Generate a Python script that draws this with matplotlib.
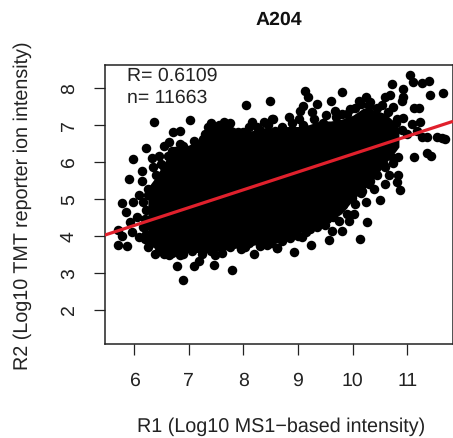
import matplotlib
matplotlib.use("Agg")
import matplotlib.pyplot as plt

plt.rcParams['font.family'] = ['Liberation Sans', 'DejaVu Sans']
plt.rcParams['text.hinting'] = 'no_hinting'

title = "A204"
xlabel = "R1 (Log10 MS1\u2212based intensity)"
ylabel = "R2 (Log10 TMT reporter ion intensity)"
r_text = "R= 0.6109"
n_text = "n= 11663"
x_ticks = [6, 7, 8, 9, 10, 11]
y_ticks = [2, 3, 4, 5, 6, 7, 8]

# visible separate points around the mass
pts_x = [8.04,8.48,6.37,7.03,6.84,6.72,6.63,6.54,6.22,5.97,6.32,6.46,6.35,6.14,5.90,6.14,6.08,5.77,5.98,5.85,
         6.05,5.93,5.71,5.96,6.08,5.71,5.87,5.77,6.17,6.26,6.38,6.63,6.78,6.89,7.10,7.18,7.46,7.79,7.48,6.84,
         8.03,8.19,8.61,8.43,6.69,6.84,7.15,7.26,7.36,7.41,7.64,7.76,8.00,8.16,8.37,8.53,8.25,8.58,6.54,6.26,
         6.17,6.20,6.20,
         9.13,9.19,9.35,9.60,9.81,9.10,9.03,8.83,9.01,8.55,9.25,9.52,9.67,9.80,9.96,10.11,10.24,10.32,10.60,10.68,
         10.72,10.93,11.06,11.10,11.28,11.40,11.42,11.65,10.90,10.93,10.75,10.54,11.12,11.21,10.93,11.09,11.24,11.18,
         10.81,10.99,11.27,11.36,11.54,11.70,11.63,11.13,11.36,11.44,10.84,10.75,10.57,10.67,10.59,10.84,10.81,10.87,
         10.51,10.40,10.25,10.32,10.17,9.99,10.02,9.93,10.27,9.80,9.62,9.57,10.14,9.24,9.07,8.93,8.61,9.22,8.86,8.49,
         9.83,9.53]
pts_y = [7.53,7.63,7.08,7.12,6.84,6.81,6.53,6.42,6.36,6.08,6.10,6.16,5.85,5.76,5.54,5.49,5.10,4.89,4.91,4.65,
         4.50,4.37,4.16,4.10,3.96,3.75,3.72,4.00,4.23,3.69,3.51,3.47,3.18,2.82,3.19,3.33,3.22,3.08,3.47,3.47,
         3.69,3.51,3.66,3.74,6.30,6.48,6.48,6.62,6.93,7.05,7.07,7.04,6.80,7.07,7.08,7.16,6.93,6.84,5.85,5.27,
         4.90,4.46,3.92,
         7.92,7.76,7.56,7.65,7.88,7.50,7.38,7.20,7.15,7.15,7.34,7.25,7.38,7.29,7.43,7.65,7.76,7.61,7.74,7.80,
         8.10,7.97,8.35,8.15,8.13,8.19,7.80,7.85,7.65,7.74,7.47,7.52,7.45,7.45,7.17,7.02,7.07,6.84,
         7.16,6.75,6.68,6.68,6.68,6.60,6.63,6.12,6.23,6.15,6.14,5.96,5.90,5.63,5.40,5.65,5.46,5.24,
         4.98,5.27,4.91,5.49,5.22,5.01,4.59,4.41,4.37,4.12,4.14,3.90,3.92,3.76,3.96,3.57,3.66,4.18,4.05,3.87,
         4.82,4.46]

# points that make the uneven rim of the cloud
rim_x = [6.4,6.5,6.62,6.75,6.9,7.0,7.1,7.3,7.45,7.55,7.7,7.9,8.1,8.3,8.45,8.7,8.9,9.1,9.3,9.45,9.7,9.9,10.05,10.15,10.3,10.45,10.65,10.8,10.9,
         6.3,6.45,6.55,6.7,6.9,7.05,7.25,7.4,7.6,7.75,7.95,8.1,8.3,8.5,8.7,8.85,9.0,9.15,9.35,9.5,9.65,9.75,9.9,10.05,10.15,10.3,10.45,10.6,10.75,
         6.25,6.22,6.25,6.22]
rim_y = [5.65,5.95,6.15,6.3,6.42,6.3,6.55,6.75,6.85,7.0,6.95,6.8,6.95,6.85,7.0,6.95,7.05,7.0,7.15,7.05,7.2,7.3,7.45,7.55,7.5,7.45,7.35,7.05,6.85,
         3.8,3.6,3.5,3.55,3.5,3.6,3.5,3.6,3.55,3.7,3.65,3.8,3.72,3.8,3.85,3.95,4.0,4.1,4.25,4.3,4.5,4.4,4.6,4.85,5.15,5.4,5.65,5.85,6.1,
         5.1,4.7,4.3,4.05]

# solid overplotted mass of the cloud: lower and upper edge per x
mass_x = [6.25,6.4,6.6,6.8,7.0,7.2,7.4,7.6,7.8,8.0,8.2,8.4,8.6,8.8,9.0,9.2,9.4,9.6,9.8,10.0,10.2,10.4,10.6,10.75,10.85]
mass_low = [3.9,3.6,3.55,3.55,3.55,3.55,3.55,3.6,3.65,3.7,3.75,3.8,3.8,3.95,4.05,4.2,4.3,4.4,4.6,4.95,5.25,5.55,5.95,6.2,6.4]
mass_high = [5.3,5.6,6.1,6.35,6.45,6.6,6.9,6.95,6.95,6.8,6.85,6.9,6.9,6.95,6.95,7.0,7.1,7.1,7.15,7.25,7.45,7.4,7.3,7.1,6.9]

fit_x = [5.46, 11.84]
fit_y = [4.02, 7.09]

W, H = 453, 439
fig = plt.figure(figsize=(W/100, H/100), dpi=100)
ax = fig.add_axes([104.7/W, 1-344.7/H, (W-104.7)/W, (344.7-66)/H])
ax.set_xlim(5.46, 11.84)
ax.set_ylim(1.09, 8.61)

ax.fill_between(mass_x, mass_low, mass_high, color='black', lw=0, zorder=2)
ax.scatter(pts_x + rim_x, pts_y + rim_y, s=47, c='black', linewidths=0, zorder=3)
ax.plot(fit_x, fit_y, color='#E0202C', lw=2.3, zorder=4, solid_capstyle='butt')

ax.set_xticks(x_ticks)
ax.set_yticks(y_ticks)
ax.tick_params(axis='both', length=8, width=0.9, color='#222222', labelsize=14, labelcolor='#222222', pad=11.5)
for lab in ax.get_yticklabels():
    lab.set_rotation(90)
    lab.set_va('center')
for s in ax.spines.values():
    s.set_linewidth(1.1)
    s.set_color('#222222')

ax.set_xlabel(xlabel, fontsize=14.2, color='#222222')
ax.xaxis.set_label_coords(0.506, -0.295)
ax.xaxis.label.set_va('center')
ax.set_ylabel(ylabel, fontsize=14.2, color='#222222')
ax.yaxis.set_label_coords(-0.235, 0.50)
ax.yaxis.label.set_va('center')

fig.text(279/W, 1-20/H, title, fontsize=14, fontweight='bold', ha='center', va='center', color='#111111')
ax.text(0.064, 0.964, r_text, transform=ax.transAxes, fontsize=14, va='center', color='#222222')
ax.text(0.064, 0.885, n_text, transform=ax.transAxes, fontsize=14, va='center', color='#222222')

fig.savefig("out.png", dpi=100)
